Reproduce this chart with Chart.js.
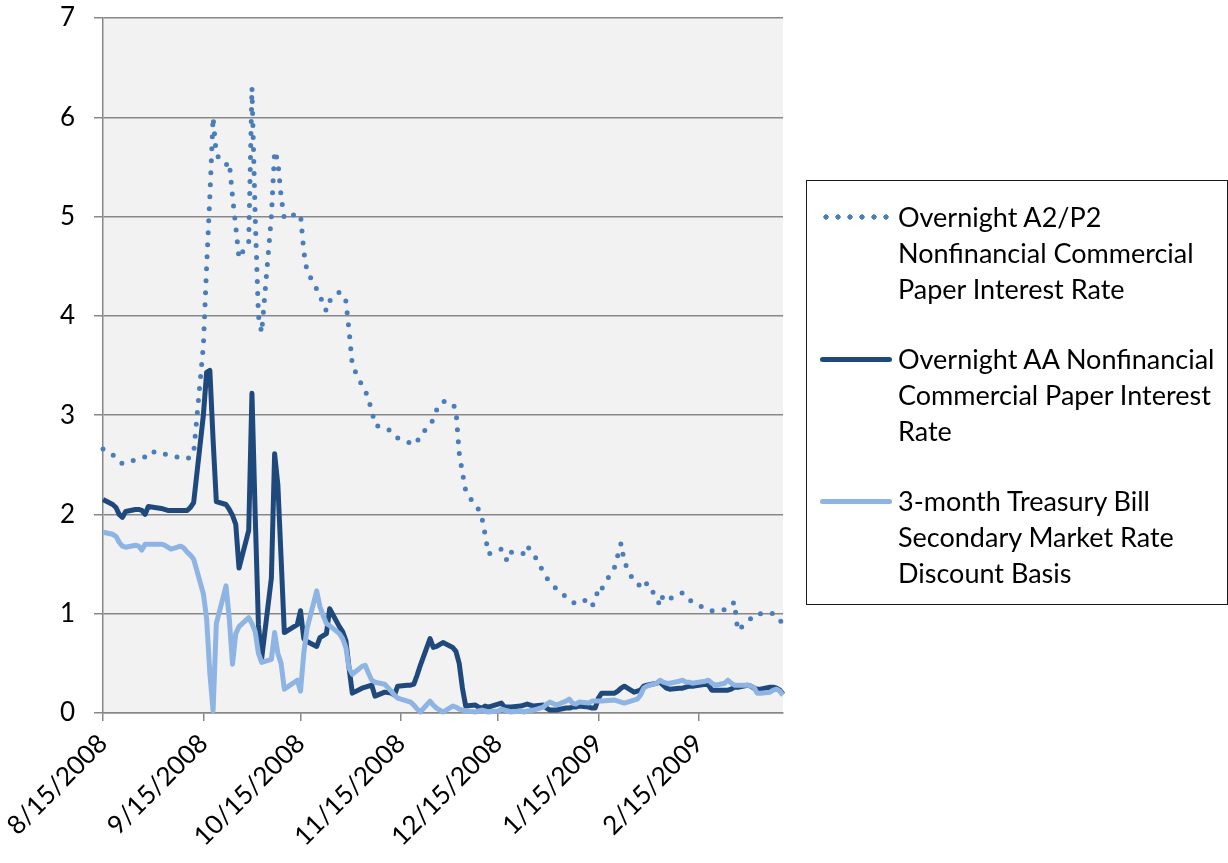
<!DOCTYPE html>
<html>
<head>
<meta charset="utf-8">
<script src="https://cdn.jsdelivr.net/npm/chart.js@4.4.1/dist/chart.umd.min.js"></script>
<style>
  body { margin: 0; background: #fff; font-family: Lato, sans-serif; }
  #wrap { position: relative; width: 1228px; height: 863px; }
  #legend {
    position: absolute; left: 806px; top: 180px; width: 422px; height: 425px;
    box-sizing: border-box; border: 1.5px solid #1a1a1a; padding-top: 18px;
  }
  .item { position: relative; padding-left: 91px; margin-bottom: 34px; font-size: 27px; line-height: 36px; white-space: nowrap; color: #000; }
  .swatch { position: absolute; left: 13px; top: 15px; width: 72px; height: 6px; }
</style>
</head>
<body>
<div id="wrap">
  <canvas id="rates"></canvas>
  <div id="legend"></div>
</div>
<script>
// business days
const dates = [
  '2008-08-15','2008-08-18','2008-08-19','2008-08-20','2008-08-21','2008-08-22',
  '2008-08-25','2008-08-26','2008-08-27','2008-08-28','2008-08-29',
  '2008-09-02','2008-09-03','2008-09-04','2008-09-05',
  '2008-09-08','2008-09-09','2008-09-10','2008-09-11','2008-09-12',
  '2008-09-15','2008-09-16','2008-09-17','2008-09-18','2008-09-19',
  '2008-09-22','2008-09-23','2008-09-24','2008-09-25','2008-09-26',
  '2008-09-29','2008-09-30','2008-10-01','2008-10-02','2008-10-03',
  '2008-10-06','2008-10-07','2008-10-08','2008-10-09','2008-10-10',
  '2008-10-14','2008-10-15','2008-10-16','2008-10-17',
  '2008-10-20','2008-10-21','2008-10-22','2008-10-23','2008-10-24',
  '2008-10-27','2008-10-28','2008-10-29','2008-10-30','2008-10-31',
  '2008-11-03','2008-11-04','2008-11-05','2008-11-06','2008-11-07',
  '2008-11-10','2008-11-12','2008-11-13','2008-11-14',
  '2008-11-17','2008-11-18','2008-11-19','2008-11-20','2008-11-21',
  '2008-11-24','2008-11-25','2008-11-26','2008-11-28',
  '2008-12-01','2008-12-02','2008-12-03','2008-12-04','2008-12-05',
  '2008-12-08','2008-12-09','2008-12-10','2008-12-11','2008-12-12',
  '2008-12-15','2008-12-16','2008-12-17','2008-12-18','2008-12-19',
  '2008-12-22','2008-12-23','2008-12-24','2008-12-26',
  '2008-12-29','2008-12-30','2008-12-31','2009-01-02',
  '2009-01-05','2009-01-06','2009-01-07','2009-01-08','2009-01-09',
  '2009-01-12','2009-01-13','2009-01-14','2009-01-15','2009-01-16',
  '2009-01-20','2009-01-21','2009-01-22','2009-01-23',
  '2009-01-26','2009-01-27','2009-01-28','2009-01-29','2009-01-30',
  '2009-02-02','2009-02-03','2009-02-04','2009-02-05','2009-02-06',
  '2009-02-09','2009-02-10','2009-02-11','2009-02-12','2009-02-13',
  '2009-02-17','2009-02-18','2009-02-19','2009-02-20',
  '2009-02-23','2009-02-24','2009-02-25','2009-02-26','2009-02-27',
  '2009-03-02','2009-03-03','2009-03-04','2009-03-05','2009-03-06',
  '2009-03-09','2009-03-10','2009-03-11','2009-03-12','2009-03-13'
];

const a2p2Rate = [
  2.66, 2.6, 2.58, 2.54, 2.51, 2.52, 2.55, 2.56, 2.57, 2.58, 2.63,
  2.63, 2.61, 2.6, 2.59, 2.57, 2.57, 2.56, 2.58, 2.62,
  3.7, 4.5, 5.2, 6.0, 5.62, 5.52, 5.55, 5.2, 4.9, 4.58,
  4.75, 6.3, 5.0, 4.0, 3.83, 5.0, 5.66, 5.56, 5.2, 4.98,
  5.03, 5.02, 4.65, 4.45, 4.27, 4.22, 4.1, 4.05, 4.15,
  4.24, 4.22, 4.15, 3.85, 3.5, 3.3, 3.25, 3.15, 3.05, 2.9,
  2.87, 2.84, 2.8, 2.77, 2.73, 2.72, 2.7, 2.73, 2.8,
  2.9, 2.96, 3.05, 3.14, 3.12, 3.05, 2.62, 2.42, 2.24,
  2.08, 2.05, 1.97, 1.8, 1.6, 1.64, 1.65, 1.57, 1.53, 1.62,
  1.62, 1.6, 1.68, 1.6, 1.42, 1.36, 1.33, 1.25,
  1.17, 1.14, 1.12, 1.1, 1.12, 1.14, 1.08, 1.12, 1.27, 1.25,
  1.47, 1.59, 1.71, 1.52, 1.32, 1.3, 1.28, 1.25, 1.31,
  1.16, 1.08, 1.19, 1.17, 1.15, 1.2, 1.21, 1.17, 1.14, 1.12,
  1.05, 1.03, 1.03, 1.03, 1.04, 1.05, 1.08, 1.12, 0.83,
  0.92, 0.95, 0.99, 1.0, 1.0, 1.01, 1.0, 0.98, 0.95, 0.87
];

const aaRate = [
  2.15, 2.1, 2.07, 2.0, 1.97, 2.03, 2.05, 2.05, 2.04, 2.0, 2.08,
  2.06, 2.05, 2.04, 2.04, 2.04, 2.04, 2.04, 2.07, 2.12,
  3.0, 3.43, 3.45, 2.75, 2.13, 2.1, 2.05, 1.99, 1.9, 1.46,
  1.84, 3.22, 2.0, 0.89, 0.55, 1.36, 2.61, 2.3, 1.56, 0.81,
  0.89, 1.03, 0.75, 0.72, 0.67, 0.76, 0.78, 0.8, 1.05,
  0.87, 0.82, 0.73, 0.45, 0.2, 0.25, 0.26, 0.27, 0.28, 0.17,
  0.21, 0.2, 0.18, 0.27, 0.28, 0.28, 0.29, 0.38, 0.48,
  0.75, 0.66, 0.67, 0.71, 0.66, 0.62, 0.5, 0.25, 0.07,
  0.08, 0.06, 0.05, 0.07, 0.06, 0.09, 0.1, 0.06, 0.06, 0.06,
  0.07, 0.08, 0.09, 0.07, 0.08, 0.05, 0.03, 0.03,
  0.05, 0.05, 0.06, 0.06, 0.07, 0.06, 0.05, 0.05, 0.15, 0.2,
  0.2, 0.22, 0.25, 0.27, 0.21, 0.22, 0.23, 0.27, 0.28,
  0.3, 0.31, 0.28, 0.25, 0.24, 0.25, 0.25, 0.26, 0.27, 0.27,
  0.29, 0.28, 0.23, 0.23, 0.23, 0.23, 0.24, 0.26, 0.26,
  0.28, 0.27, 0.25, 0.24, 0.24, 0.26, 0.26, 0.25, 0.23, 0.19
];

const tbillRate = [
  1.82, 1.8, 1.78, 1.72, 1.68, 1.67, 1.69, 1.68, 1.64, 1.7, 1.7,
  1.7, 1.69, 1.67, 1.65, 1.68, 1.66, 1.62, 1.59, 1.55,
  1.2, 0.95, 0.4, 0.02, 0.9, 1.28, 0.95, 0.49, 0.8, 0.87,
  0.96, 0.9, 0.82, 0.6, 0.51, 0.54, 0.81, 0.6, 0.5, 0.24,
  0.33, 0.22, 0.6, 0.85, 1.23, 1.07, 0.98, 0.9, 0.88,
  0.8, 0.75, 0.66, 0.45, 0.39, 0.47, 0.48, 0.4, 0.33, 0.31,
  0.29, 0.22, 0.18, 0.15, 0.12, 0.11, 0.08, 0.04, 0.01,
  0.12, 0.08, 0.05, 0.01, 0.07, 0.06, 0.04, 0.03, 0.02,
  0.01, 0.02, 0.03, 0.02, 0.01, 0.02, 0.04, 0.03, 0.02, 0.01,
  0.02, 0.01, 0.02, 0.03, 0.06, 0.09, 0.11, 0.08,
  0.12, 0.14, 0.1, 0.09, 0.11, 0.1, 0.12, 0.12, 0.12, 0.12,
  0.13, 0.12, 0.11, 0.1, 0.13, 0.14, 0.18, 0.25, 0.27,
  0.3, 0.33, 0.31, 0.3, 0.3, 0.32, 0.33, 0.31, 0.31, 0.3,
  0.32, 0.33, 0.3, 0.28, 0.3, 0.33, 0.3, 0.28, 0.28,
  0.28, 0.27, 0.26, 0.2, 0.2, 0.21, 0.23, 0.24, 0.22, 0.18
];

const tickLabels = ['8/15/2008', '9/15/2008', '10/15/2008', '11/15/2008', '12/15/2008', '1/15/2009', '2/15/2009'];

const seriesNames = [
  ['Overnight A2/P2', 'Nonfinancial Commercial', 'Paper Interest Rate'],
  ['Overnight AA Nonfinancial', 'Commercial Paper Interest', 'Rate'],
  ['3-month Treasury Bill', 'Secondary Market Rate', 'Discount Basis']
];

const colors = ['#4a7ebb', '#1f497d', '#8eb4e3'];
const gridColor = '#878787';
const axisFont = { family: 'Lato', size: 26 };

const start = Date.parse(dates[0]);
function dayOf(iso) {
  return Math.round((Date.parse(iso) - start) / 86400000);
}
function dayOfLabel(lbl) {
  const [m, d, y] = lbl.split('/');
  return dayOf(y + '-' + m.padStart(2, '0') + '-' + d.padStart(2, '0'));
}
const tickDays = tickLabels.map(dayOfLabel);
const points = vals => dates.map((d, i) => ({ x: dayOf(d), y: vals[i] }));

const plotBg = {
  id: 'plotBg',
  beforeDraw(chart) {
    const { ctx, chartArea: a } = chart;
    ctx.save();
    ctx.fillStyle = '#f2f2f2';
    ctx.fillRect(a.left, a.top, a.right - a.left, a.bottom - a.top);
    ctx.restore();
  }
};

new Chart(document.getElementById('rates'), {
  type: 'line',
  data: {
    datasets: [
      {
        label: seriesNames[0].join(' '),
        data: points(a2p2Rate),
        borderColor: colors[0],
        borderWidth: 5,
        borderDash: [0, 12],
        borderCapStyle: 'round',
        order: 3
      },
      {
        label: seriesNames[1].join(' '),
        data: points(aaRate),
        borderColor: colors[1],
        borderWidth: 5,
        borderJoinStyle: 'round',
        order: 2
      },
      {
        label: seriesNames[2].join(' '),
        data: points(tbillRate),
        borderColor: colors[2],
        borderWidth: 5,
        borderJoinStyle: 'round',
        order: 1
      }
    ]
  },
  options: {
    responsive: true,
    maintainAspectRatio: false,
    animation: false,
    events: [],
    clip: false,
    layout: { padding: { top: 18, right: 445, bottom: 0, left: 0 } },
    elements: { point: { radius: 0 }, line: { tension: 0 } },
    plugins: { legend: { display: false }, tooltip: { enabled: false } },
    scales: {
      x: {
        type: 'linear',
        min: 0,
        max: dayOf(dates[dates.length - 1]),
        afterBuildTicks: s => { s.ticks = tickDays.map(v => ({ value: v })); },
        afterFit: s => { s.height = 150; },
        ticks: {
          autoSkip: false,
          minRotation: 45,
          maxRotation: 45,
          padding: 7,
          color: '#000',
          font: axisFont,
          callback: (v, i) => tickLabels[i]
        },
        grid: { drawOnChartArea: false, color: gridColor, lineWidth: 1.5, tickLength: 8 },
        border: { color: gridColor, width: 1.5 }
      },
      y: {
        min: 0,
        max: 7,
        afterFit: s => { s.width = 103; s.paddingTop = 0; s.paddingBottom = 0; },
        ticks: { stepSize: 1, padding: 19, color: '#000', font: axisFont },
        grid: { color: gridColor, lineWidth: 1.5, tickLength: 9 },
        border: { color: gridColor, width: 1.5 }
      }
    }
  },
  plugins: [plotBg]
});

// legend box on the right
const legend = document.getElementById('legend');
seriesNames.forEach((lines, i) => {
  const item = document.createElement('div');
  item.className = 'item';
  const sw = document.createElement('div');
  sw.className = 'swatch';
  if (i === 0) {
    sw.style.backgroundImage = 'radial-gradient(circle, ' + colors[0] + ' 2.4px, transparent 2.9px)';
    sw.style.backgroundSize = '12px 6px';
  } else {
    sw.style.top = '16px';
    sw.style.height = '5px';
    sw.style.borderRadius = '2.5px';
    sw.style.background = colors[i];
  }
  item.appendChild(sw);
  lines.forEach(t => {
    const ln = document.createElement('div');
    ln.textContent = t;
    item.appendChild(ln);
  });
  legend.appendChild(item);
});
</script>
</body>
</html>
